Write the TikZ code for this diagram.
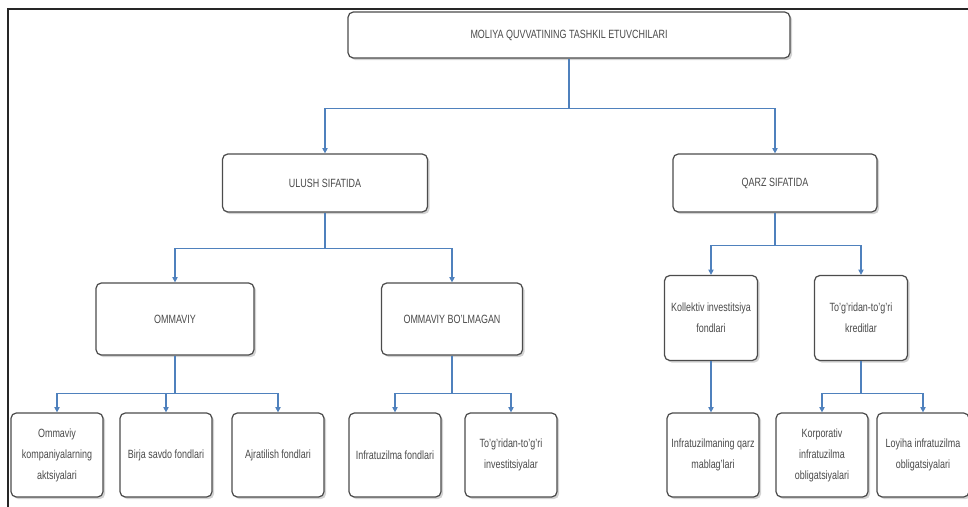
\documentclass[tikz,border=0pt]{standalone}
\usepackage{fontspec}
\setmainfont{Liberation Sans}[FakeStretch=0.75]
\usetikzlibrary{shadows, arrows.meta}

\definecolor{linkblue}{HTML}{4F81BD}
\definecolor{boxtext}{HTML}{4A4A4A}

\begin{document}
\begin{tikzpicture}[x=0.02cm, y=-0.02cm,
  box/.style={draw=black!70, fill=white, rounded corners=3pt, line width=0.7pt,
    text=boxtext, align=center, inner sep=2pt,
    font=\fontsize{6.8}{12}\selectfont,
    drop shadow={shadow xshift=1.2pt, shadow yshift=-1.2pt, opacity=0.35}},
  leaf/.style={box, minimum width=1.84cm, minimum height=1.68cm},
  link/.style={draw=linkblue, line width=0.6pt, -{Triangle[length=3pt, width=3pt]}}]

\useasboundingbox (0,0) rectangle (968,507);

%Frame
\draw[line width=1.2pt, black!85] (8,507) -- (8,9) -- (968,9);

%Top
\node[box, minimum width=8.84cm, minimum height=0.92cm] (main) at (569,35) {MOLIYA QUVVATINING TASHKIL ETUVCHILARI};

%Second level
\node[box, minimum width=4.1cm, minimum height=1.16cm] (ulush) at (325,183) {ULUSH SIFATIDA};
\node[box, minimum width=4.08cm, minimum height=1.16cm] (qarz) at (775,183) {QARZ SIFATIDA};

%Third level
\node[box, minimum width=3.16cm, minimum height=1.44cm] (ommaviy) at (175,319) {OMMAVIY};
\node[box, minimum width=2.82cm, minimum height=1.44cm] (bolmagan) at (452,319) {OMMAVIY BO'LMAGAN};
\node[box, minimum width=1.86cm, minimum height=1.7cm] (kollektiv) at (711,318) {Kollektiv investitsiya\\fondlari};
\node[box, minimum width=1.86cm, minimum height=1.7cm] (kredit) at (861,318) {To'g'ridan-to'g'ri\\kreditlar};

%Leaves
\node[leaf] (aktsiya) at (57,455) {Ommaviy\\kompaniyalarning\\aktsiyalari};
\node[leaf] (birja) at (166,455) {Birja savdo fondlari};
\node[leaf] (ajrat) at (278,455) {Ajratilish fondlari};
\node[leaf] (infond) at (395,455) {Infratuzilma fondlari};
\node[leaf] (toginv) at (511,455) {To'g'ridan-to'g'ri\\investitsiyalar};
\node[leaf] (mablag) at (713,455) {Infratuzilmaning qarz\\mablag'lari};
\node[leaf] (korp) at (822,455) {Korporativ\\infratuzilma\\obligatsiyalari};
\node[leaf] (loyiha) at (923,455) {Loyiha infratuzilma\\obligatsiyalari};

%Links
\foreach \from/\to/\dy in {main/ulush/50, main/qarz/50, ulush/ommaviy/36, ulush/bolmagan/36,
  qarz/kollektiv/33, qarz/kredit/33, ommaviy/aktsiya/38, ommaviy/birja/38, ommaviy/ajrat/38,
  bolmagan/infond/38, bolmagan/toginv/38, kredit/korp/32, kredit/loyiha/32}
\draw[link] (\from.south) -- ++(0,\dy) -| (\to.north);
\draw[link] (kollektiv.south) -- (kollektiv.south |- mablag.north);

\end{tikzpicture}
\end{document}
